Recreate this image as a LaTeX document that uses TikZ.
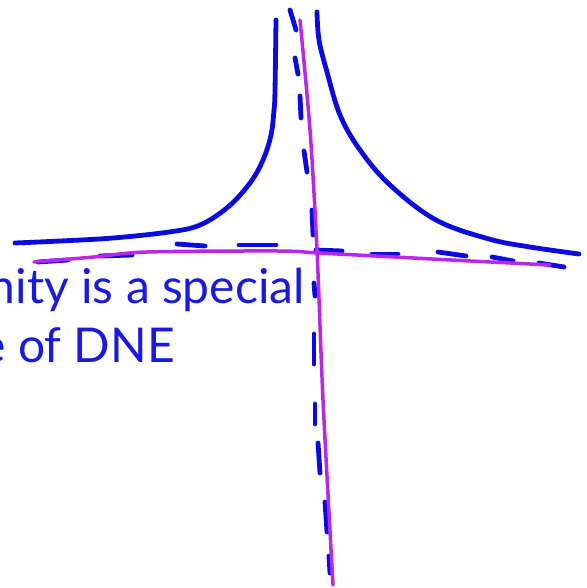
\documentclass[tikz,border=0pt]{standalone}
\usepackage{fontspec}
\setmainfont{Lato}
\definecolor{penblue}{RGB}{10,10,225}
\definecolor{textblue}{RGB}{25,25,225}
\definecolor{penmag}{RGB}{185,40,230}
\begin{document}
\begin{tikzpicture}[x=1pt,y=-1pt,
  bluepen/.style={draw=penblue,line width=4.8pt,line cap=round,line join=round},
  dashpen/.style={draw=penblue,line width=4.8pt,line cap=round},
  magpen/.style={draw=penmag,line width=3.5pt,line cap=round,line join=round},
  lbl/.style={text=textblue,font=\fontsize{48}{56}\selectfont,inner sep=0pt,anchor=base east}]
\useasboundingbox (0,0) rectangle (586,588);
\clip (0,0) rectangle (586,588);
% blue curves
\draw[bluepen] plot[smooth,tension=0.6] coordinates {(15,243) (60,241) (113,238) (169,232) (200,225) (228,207) (250,183) (263,160) (271,135) (274,110) (275,90) (276,20)};
\draw[bluepen] plot[smooth,tension=0.6] coordinates {(317,12) (319,40) (327,72) (340,115) (360,150) (390,185) (436,220) (489,239) (530,247) (579,254)};
% dashed asymptotes
\foreach \a/\b in {{38,262}/{68,260},{100,256}/{132,255},{177,244}/{205,246},{239,245}/{276,245},{316,250}/{342,251},{372,254}/{398,254},{438,252}/{466,256},{492,257}/{513,261},{539,263}/{564,267}}
  \draw[dashpen] (\a) -- (\b);
\foreach \a/\b in {{290,10}/{296,30},{295,58}/{298,74},{300,96}/{301,118},{304,151}/{307,172},{312,210}/{313,235},{314,283}/{315,296},{314,334}/{314,364},{315,404}/{315,424},{318,443}/{320,473},{325,502}/{327,532},{329,556}/{330,573}}
  \draw[dashpen] (\a) -- (\b);
% magenta axes
\draw[magpen] plot[smooth,tension=0.5] coordinates {(34,262) (94,257) (147,252) (278,251) (318,253) (376,256) (451,260) (550,265)};
\draw[magpen] plot[smooth,tension=0.5] coordinates {(300,20) (310,130) (317,250) (323,400) (333,585)};
% text
\node[lbl] (l1) at (305,303) {nity is a special};
\node[lbl] (l2) at (175,362) {e of DNE};
\end{tikzpicture}
\end{document}
